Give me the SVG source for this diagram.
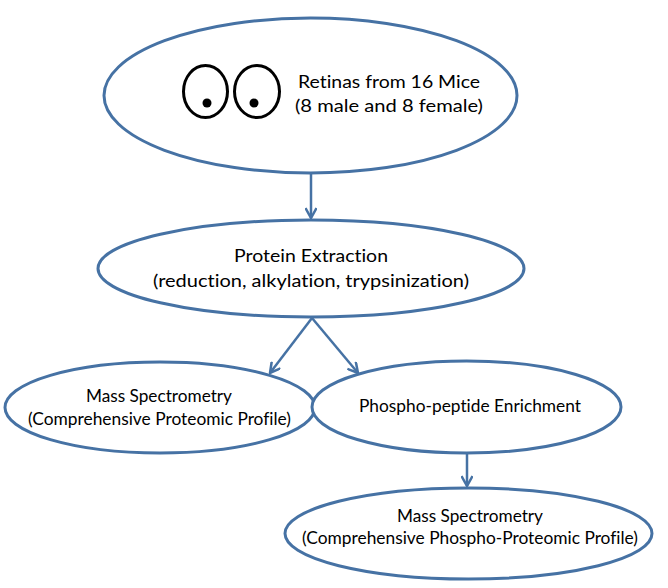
<svg xmlns="http://www.w3.org/2000/svg" width="668" height="588" viewBox="0 0 668 588">
<defs>
<style>
.node{fill:#ffffff;stroke:#4672a4;stroke-width:3}
.lbl{font-family:Lato,"Liberation Sans",Arial,sans-serif;font-size:18px;fill:#000000;text-anchor:middle;font-variant-ligatures:none}
.conn{fill:none;stroke:#4672a4;stroke-width:2.5}
.eye{fill:#ffffff;stroke:#000000;stroke-width:3}
</style>
<marker id="arr" viewBox="0 0 12 12" refX="11" refY="6" markerWidth="12" markerHeight="12" markerUnits="userSpaceOnUse" orient="auto">
<path d="M1,0.5 L11,6 L1,11.5" fill="none" stroke="#4672a4" stroke-width="2.5"/>
</marker>
</defs>
<rect width="668" height="588" fill="#ffffff"/>
<g id="connectors">
<line class="conn" x1="311" y1="174" x2="311" y2="218" marker-end="url(#arr)"/>
<line class="conn" x1="312" y1="318" x2="270" y2="373" marker-end="url(#arr)"/>
<line class="conn" x1="312" y1="318" x2="358" y2="373" marker-end="url(#arr)"/>
<line class="conn" x1="467" y1="454" x2="467" y2="486" marker-end="url(#arr)"/>
</g>
<g id="retinas">
<ellipse class="node" cx="310.5" cy="95.5" rx="206.5" ry="77.5"/>
<ellipse class="eye" cx="205.5" cy="91.5" rx="22" ry="26"/>
<circle cx="207" cy="103" r="4.5" fill="#000000"/>
<ellipse class="eye" cx="257" cy="91.5" rx="22.5" ry="26"/>
<circle cx="254" cy="103" r="4.5" fill="#000000"/>
<text class="lbl" x="389" y="87.5" textLength="182" lengthAdjust="spacingAndGlyphs">Retinas from 16 Mice</text>
<text class="lbl" x="389" y="112" textLength="188" lengthAdjust="spacingAndGlyphs">(8 male and 8 female)</text>
</g>
<g id="protein">
<ellipse class="node" cx="311" cy="268.5" rx="213" ry="48.5"/>
<text class="lbl" x="311" y="262" textLength="154" lengthAdjust="spacingAndGlyphs">Protein Extraction</text>
<text class="lbl" x="311" y="287" textLength="316" lengthAdjust="spacingAndGlyphs">(reduction, alkylation, trypsinization)</text>
</g>
<g id="ms1">
<ellipse class="node" cx="160" cy="407.5" rx="155" ry="45.5"/>
<text class="lbl" x="159" y="402" textLength="146" lengthAdjust="spacingAndGlyphs">Mass Spectrometry</text>
<text class="lbl" x="159.5" y="425" textLength="263" lengthAdjust="spacingAndGlyphs">(Comprehensive Proteomic Profile)</text>
</g>
<g id="phospho">
<ellipse class="node" cx="466.5" cy="407" rx="154.5" ry="46"/>
<text class="lbl" x="470" y="412" textLength="222" lengthAdjust="spacingAndGlyphs">Phospho-peptide Enrichment</text>
</g>
<g id="ms2">
<ellipse class="node" cx="468.5" cy="533.5" rx="183.5" ry="45.5"/>
<text class="lbl" x="470" y="522" textLength="146" lengthAdjust="spacingAndGlyphs">Mass Spectrometry</text>
<text class="lbl" x="470" y="544" textLength="336" lengthAdjust="spacingAndGlyphs">(Comprehensive Phospho-Proteomic Profile)</text>
</g>
</svg>
